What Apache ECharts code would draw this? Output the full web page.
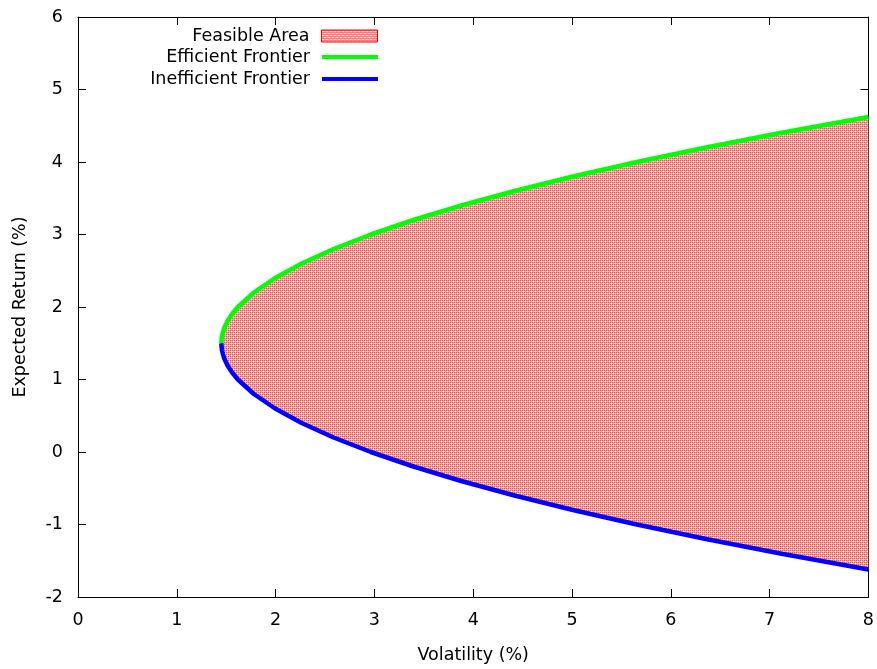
<!DOCTYPE html>
<html>
<head>
<meta charset="utf-8">
<script src="https://cdn.jsdelivr.net/npm/echarts@6/dist/echarts.min.js"></script>
<style>
  html, body { margin: 0; padding: 0; background: #fff; }
  #chart { width: 877px; height: 669px; }
</style>
</head>
<body>
<div id="chart"></div>
<script>
// values: volatility (%) and expected return (%)
const efficientVol = [1.45, 1.457, 1.477, 1.511, 1.558, 1.618, 1.78, 1.995, 2.264, 2.587, 2.964, 3.395, 3.879, 4.418, 5.01, 5.656, 6.356, 7.109, 7.917, 8.0];
const efficientRet = [1.5, 1.6, 1.7, 1.8, 1.9, 2.0, 2.2, 2.4, 2.6, 2.8, 3.0, 3.2, 3.4, 3.6, 3.8, 4.0, 4.2, 4.4, 4.6, 4.62];
const inefficientVol = [1.45, 1.457, 1.477, 1.511, 1.558, 1.618, 1.78, 1.995, 2.264, 2.587, 2.964, 3.395, 3.879, 4.418, 5.01, 5.656, 6.356, 7.109, 7.917, 8.0];
const inefficientRet = [1.5, 1.4, 1.3, 1.2, 1.1, 1.0, 0.8, 0.6, 0.4, 0.2, 0.0, -0.2, -0.4, -0.6, -0.8, -1.0, -1.2, -1.4, -1.6, -1.62];
const xTicks = [0, 1, 2, 3, 4, 5, 6, 7, 8];
const yTicks = [-2, -1, 0, 1, 2, 3, 4, 5, 6];

const efficientData = efficientVol.map((v, i) => [v, efficientRet[i]]);
const inefficientData = inefficientVol.map((v, i) => [v, inefficientRet[i]]);
// closed outline of the feasible region: up the efficient side, back down the inefficient one
const feasibleOutline = efficientData.concat(inefficientData.slice().reverse());

// red crosshatch like gnuplot's pattern fill
function makePattern() {
    const c = document.createElement('canvas');
    c.width = 4;
    c.height = 4;
    const ctx = c.getContext('2d');
    ctx.fillStyle = '#ffa8a8';
    ctx.fillRect(0, 0, 4, 4);
    ctx.fillStyle = '#ff4a4a';
    ctx.fillRect(0, 0, 1, 1);
    ctx.fillRect(2, 2, 1, 1);
    ctx.fillRect(2, 0, 1, 1);
    ctx.fillRect(0, 2, 1, 1);
    ctx.fillStyle = '#ffffff';
    ctx.fillRect(1, 1, 1, 1);
    ctx.fillRect(3, 3, 1, 1);
    return { image: c, repeat: 'repeat' };
}
const hatch = makePattern();

const font = 'DejaVu Sans';
const fontSize = 17.5;
const textStyle = { fontFamily: font, fontSize: fontSize, color: '#000', lineHeight: 20, padding: [0, 7, 0, 0] };

const chart = echarts.init(document.getElementById('chart'));
const axisBase = {
    type: 'value',
    interval: 1,
    axisLine: { show: true, onZero: false, lineStyle: { color: '#000', width: 1 } },
    axisTick: { show: true, inside: true, length: 8, lineStyle: { color: '#000' } },
    splitLine: { show: false }
};

chart.setOption({
    animation: false,
    grid: { left: 78, right: 7, top: 17, bottom: 67 },
    legend: [
        {
            right: 499, top: 26, padding: 0, align: 'right',
            itemWidth: 56, itemHeight: 12, textStyle: textStyle,
            data: [{ name: 'Feasible Area', icon: 'rect', itemStyle: { color: hatch, borderColor: '#ff0000', borderWidth: 1 } }]
        },
        {
            right: 499, top: 47, padding: 0, align: 'right',
            itemWidth: 56, itemHeight: 4, textStyle: textStyle,
            data: [{ name: 'Efficient Frontier', icon: 'rect' }]
        },
        {
            right: 499, top: 69, padding: 0, align: 'right',
            itemWidth: 56, itemHeight: 4, textStyle: textStyle,
            data: [{ name: 'Inefficient Frontier', icon: 'rect' }]
        }
    ],
    xAxis: [
        Object.assign({}, axisBase, {
            min: xTicks[0], max: xTicks[xTicks.length - 1],
            position: 'bottom',
            name: 'Volatility (%)', nameLocation: 'middle', nameGap: 49,
            nameTextStyle: { fontFamily: font, fontSize: fontSize, color: '#000' },
            axisLabel: { fontFamily: font, fontSize: fontSize, color: '#000', margin: 14 }
        }),
        Object.assign({}, axisBase, {
            min: xTicks[0], max: xTicks[xTicks.length - 1],
            position: 'top', axisLabel: { show: false }
        })
    ],
    yAxis: [
        Object.assign({}, axisBase, {
            min: yTicks[0], max: yTicks[yTicks.length - 1],
            position: 'left',
            name: 'Expected Return (%)', nameLocation: 'middle', nameGap: 49,
            nameTextStyle: { fontFamily: font, fontSize: fontSize, color: '#000' },
            axisLabel: { fontFamily: font, fontSize: fontSize, color: '#000', margin: 15 }
        }),
        Object.assign({}, axisBase, {
            min: yTicks[0], max: yTicks[yTicks.length - 1],
            position: 'right', axisLabel: { show: false }
        })
    ],
    series: [
        {
            name: 'Feasible Area',
            type: 'custom',
            xAxisIndex: 0,
            yAxisIndex: 0,
            clip: true,
            itemStyle: { color: hatch },
            data: [0],
            renderItem: function(params, api) {
                const pts = feasibleOutline.map(p => api.coord(p));
                return {
                    type: 'polygon',
                    shape: { points: pts },
                    style: { fill: hatch, stroke: null }
                };
            },
            z: 1
        },
        {
            name: 'Efficient Frontier',
            type: 'line',
            data: efficientData,
            showSymbol: false,
            symbol: 'none',
            lineStyle: { color: '#00ff00', width: 4.5 },
            itemStyle: { color: '#00ff00' },
            z: 3
        },
        {
            name: 'Inefficient Frontier',
            type: 'line',
            data: inefficientData,
            showSymbol: false,
            symbol: 'none',
            lineStyle: { color: '#0000ff', width: 4.5 },
            itemStyle: { color: '#0000ff' },
            z: 3
        }
    ]
});

window.addEventListener('resize', function() {
    chart.resize();
});
</script>
</body>
</html>
